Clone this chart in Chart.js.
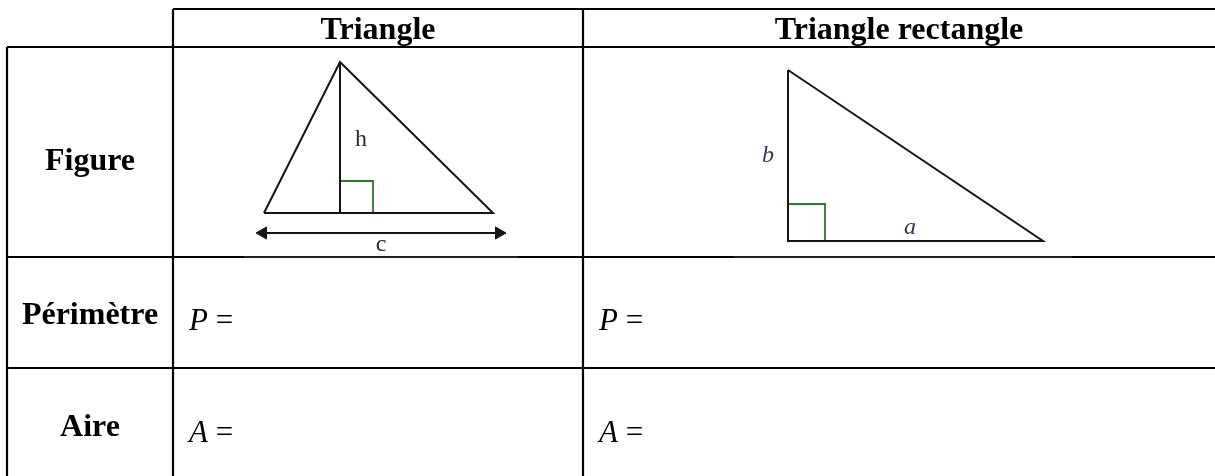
<!DOCTYPE html>
<html lang="fr">
<head>
<meta charset="utf-8">
<title>Triangle et triangle rectangle</title>
<script src="https://cdn.jsdelivr.net/npm/chart.js@4.4.1/dist/chart.umd.min.js"></script>
<style>
  html, body { margin: 0; padding: 0; background: #fff; }
  #wrap { width: 1215px; height: 476px; position: relative; }
</style>
</head>
<body>
<div id="wrap"><canvas id="tableau"></canvas></div>
<script>
// Données du tableau (en pixels de la page, axe y vers le bas)
const colEdges = [7, 173, 583, 1215];
const rowEdges = [9, 47, 257, 368, 476];
const colHeaders = ['Triangle', 'Triangle rectangle'];
const rowLabels = ['Figure', 'Périmètre', 'Aire'];
const formulaVars = ['P', 'A'];
const figureGaps = [[244, 518], [734, 1072]];

// Triangle quelconque : sommets, hauteur, angle droit, flèche de base
const triangleX = [264, 340, 493, 264];
const triangleY = [213, 62, 213, 213];
const hauteurX = [340, 340];
const hauteurY = [62, 213];
const angleAX = [340, 373, 373];
const angleAY = [181, 181, 213];
const flecheX = [263, 499];
const flecheY = [233, 233];

// Triangle rectangle
const rectX = [788, 788, 1043, 788];
const rectY = [70, 241, 241, 70];
const angleBX = [788, 825, 825];
const angleBY = [204, 204, 241];

// Lettres sur les figures
const lettres = ['h', 'c', 'b', 'a'];
const lettresX = [361, 381, 768, 910];
const lettresY = [140, 245, 156, 228];

function points(xs, ys) {
    return xs.map((x, i) => ({ x: x, y: ys[i] }));
}

function segment(data, couleur, largeur) {
    return {
        type: 'line',
        data: data,
        borderColor: couleur,
        backgroundColor: couleur,
        borderWidth: largeur,
        pointRadius: 0,
        fill: false,
        tension: 0,
        clip: false
    };
}

// Construit les lignes du tableau
const datasets = [];
const haut = rowEdges[0];
const bas = rowEdges[rowEdges.length - 1];
const droite = colEdges[colEdges.length - 1];

// ligne du haut (seulement au-dessus des en-têtes)
datasets.push(segment(points([colEdges[1], droite], [haut, haut]), '#000', 2.2));
// lignes intermédiaires
rowEdges.slice(1, -1).forEach((y, i) => {
    if (i === 1) {
        // la ligne sous les figures est en partie recouverte par les images
        let depart = colEdges[0];
        figureGaps.forEach(g => {
            datasets.push(segment(points([depart, g[0]], [y, y]), '#000', 2.2));
            datasets.push(segment(points([g[0], g[1]], [y, y]), '#222', 2));
            depart = g[1];
        });
        datasets.push(segment(points([depart, droite], [y, y]), '#000', 2.2));
    } else {
        datasets.push(segment(points([colEdges[0], droite], [y, y]), '#000', 2.2));
    }
});
// lignes verticales
datasets.push(segment(points([colEdges[0], colEdges[0]], [rowEdges[1], bas]), '#000', 2.2));
colEdges.slice(1, -1).forEach(x => {
    datasets.push(segment(points([x, x], [haut, bas]), '#000', 2.2));
});

// Figures
datasets.push(segment(points(triangleX, triangleY), '#151515', 2));
datasets.push(segment(points(hauteurX, hauteurY), '#151515', 2));
datasets.push(segment(points(angleAX, angleAY), '#2a7a2a', 1.8));
datasets.push(segment(points(flecheX, flecheY), '#151515', 1.8));
datasets.push({
    type: 'scatter',
    data: points(flecheX, flecheY),
    pointStyle: 'triangle',
    pointRadius: 7,
    rotation: [-90, 90],
    backgroundColor: '#151515',
    borderColor: '#151515',
    borderWidth: 1,
    clip: false
});
datasets.push(segment(points(rectX, rectY), '#151515', 2));
datasets.push(segment(points(angleBX, angleBY), '#2a7a2a', 1.8));

// Plugin pour écrire les textes du tableau
const textes = {
    id: 'textes',
    afterDatasetsDraw(chart) {
        const ctx = chart.ctx;
        const sx = chart.scales.x;
        const sy = chart.scales.y;
        ctx.save();
        ctx.fillStyle = '#000';
        ctx.textBaseline = 'middle';
        ctx.textAlign = 'center';
        ctx.font = 'bold 32px "Liberation Serif", "DejaVu Serif", serif';

        // en-têtes de colonnes
        colHeaders.forEach((t, i) => {
            const cx = (colEdges[i + 1] + colEdges[i + 2]) / 2;
            const cy = (rowEdges[0] + rowEdges[1]) / 2;
            ctx.fillText(t, sx.getPixelForValue(cx), sy.getPixelForValue(cy + 3));
        });

        // titres de lignes
        rowLabels.forEach((t, i) => {
            const cx = (colEdges[0] + colEdges[1]) / 2;
            const cy = (rowEdges[i + 1] + rowEdges[i + 2]) / 2;
            const decal = [10, 3, 6][i];
            ctx.fillText(t, sx.getPixelForValue(cx), sy.getPixelForValue(cy + decal));
        });

        // formules P = et A =
        ctx.textAlign = 'left';
        formulaVars.forEach((v, i) => {
            const cy = (rowEdges[i + 2] + rowEdges[i + 3]) / 2 + [9, 12][i];
            [1, 2].forEach(c => {
                const x0 = sx.getPixelForValue(colEdges[c] + 16);
                const y0 = sy.getPixelForValue(cy);
                ctx.font = 'italic 31px "Liberation Serif", serif';
                ctx.fillText(v, x0, y0);
                const w = ctx.measureText(v + ' ').width;
                ctx.font = '31px "Liberation Serif", serif';
                ctx.fillText('=', x0 + w, y0);
            });
        });

        // lettres des figures
        ctx.textAlign = 'center';
        lettres.forEach((l, i) => {
            const italique = i >= 2;
            ctx.font = (italique ? 'italic ' : '') + '24px "Liberation Serif", serif';
            ctx.fillStyle = italique ? '#2f3b58' : '#2b2b3a';
            ctx.fillText(l, sx.getPixelForValue(lettresX[i]), sy.getPixelForValue(lettresY[i]));
        });
        ctx.restore();
    }
};

const ctx = document.getElementById('tableau').getContext('2d');
new Chart(ctx, {
    type: 'scatter',
    data: { datasets: datasets },
    options: {
        responsive: true,
        maintainAspectRatio: false,
        animation: false,
        layout: { padding: 0, autoPadding: false },
        plugins: {
            legend: { display: false },
            tooltip: { enabled: false }
        },
        scales: {
            x: { type: 'linear', min: 0, max: 1215, display: false },
            y: { type: 'linear', min: 0, max: 476, reverse: true, display: false }
        }
    },
    plugins: [textes]
});
</script>
</body>
</html>
